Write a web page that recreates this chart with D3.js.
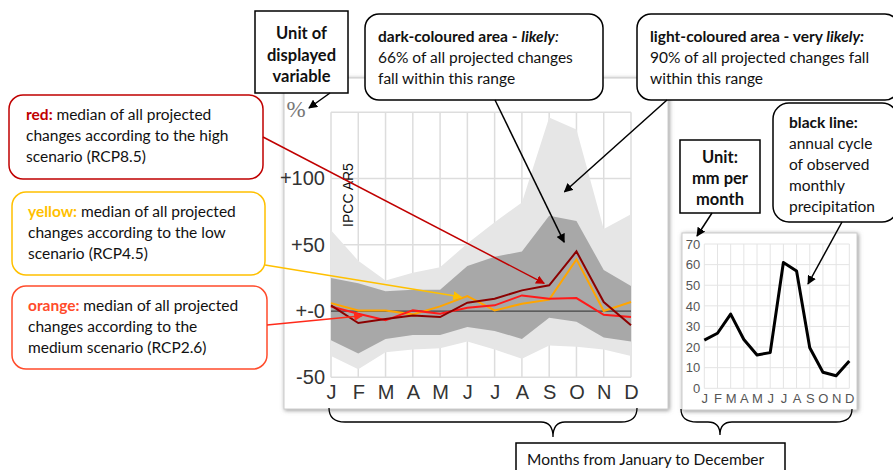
<!DOCTYPE html>
<html lang="en">
<head>
  <meta charset="UTF-8">
  <title>climate projection chart explained</title>
  <style>
    body { margin: 0; background: #fff; }
    svg { display: block; }
  </style>
</head>
<body>
  <script src="https://cdn.jsdelivr.net/npm/d3@7/dist/d3.min.js"></script>
  <script>
    // months, shared by both charts
    var months = ["J", "F", "M", "A", "M", "J", "J", "A", "S", "O", "N", "D"];
    // projected change in %, 90% range (light) and 66% range (dark)
    var veryLikelyHigh = [61, 38, 23, 29, 33, 51, 67, 82, 146, 137, 62, 73];
    var veryLikelyLow = [-34, -44, -31, -29, -28, -23, -29, -36, -26, -27, -29, -34];
    var likelyHigh = [25, 21, 15, 16, 16, 34, 41, 45, 72, 68, 31, 19];
    var likelyLow = [-22, -32, -21, -18, -18, -12, -15, -21, -5, -8, -20, -23];
    // medians of the scenarios
    var rcp85 = [4.3, -9, -6, -3.3, -4.5, 6.3, 9.3, 15.6, 19.4, 45, 6.8, -10.8];
    var rcp45 = [6, 0.5, 0.5, -2.5, 3.5, 11.3, 0.5, 5.5, 8.6, 39, 0, 6.8];
    var rcp26 = [3.5, -2, -7, 0.5, -2, 2.5, 4.3, 11.8, 9.3, 9.8, -2.8, -4.5];
    // observed monthly precipitation, mm
    var observed = [23.4, 26.7, 36, 23.7, 16.2, 17.3, 61, 56.9, 19.7, 7.8, 6.1, 13.2];
    var changeTicks = [-50, 0, 50, 100];
    var changeTickLabels = ["-50", "+-0", "+50", "+100"];
    var rainTicks = [0, 10, 20, 30, 40, 50, 60, 70];

    var width = 893, height = 470;
    var noteFont = "Lato, 'Open Sans', sans-serif";
    var axisFont = "'Liberation Sans', Arial, sans-serif";

    var svg = d3.select("body").append("svg")
      .attr("width", width)
      .attr("height", height);

    var defs = svg.append("defs");
    var shadow = defs.append("filter").attr("id", "shadow")
      .attr("x", "-5%").attr("y", "-5%").attr("width", "110%").attr("height", "110%");
    shadow.append("feDropShadow")
      .attr("dx", 1).attr("dy", 1).attr("stdDeviation", 2)
      .attr("flood-color", "#777").attr("flood-opacity", 0.8);

    function marker(id, color) {
      defs.append("marker").attr("id", id)
        .attr("viewBox", "0 0 10 10").attr("refX", 9).attr("refY", 5)
        .attr("markerWidth", 9).attr("markerHeight", 9)
        .attr("markerUnits", "userSpaceOnUse")
        .attr("orient", "auto")
        .append("path").attr("d", "M0,0 L10,5 L0,10 z").attr("fill", color);
    }
    marker("arBlack", "#000");
    marker("arRed", "#c00000");
    marker("arYellow", "#ffc000");
    marker("arOrange", "#ff2a1a");

    // frames
    svg.append("rect").attr("x", 284).attr("y", 78).attr("width", 384).attr("height", 331)
      .attr("fill", "#fff").attr("stroke", "#ccc").attr("filter", "url(#shadow)");
    svg.append("rect").attr("x", 682).attr("y", 233).attr("width", 175).attr("height", 177)
      .attr("fill", "#fff").attr("stroke", "#ccc").attr("filter", "url(#shadow)");

    // ---------- main chart ----------
    var x = d3.scalePoint().domain(d3.range(12)).range([331, 631]);
    var y = d3.scaleLinear().domain([-50, 150]).range([377.3, 112.3]);

    var main = svg.append("g");
    // grid
    main.selectAll("line.vg").data(d3.range(12)).enter().append("line")
      .attr("x1", function(d){ return x(d); }).attr("x2", function(d){ return x(d); })
      .attr("y1", y(150)).attr("y2", y(-50))
      .attr("stroke", "#ddd").attr("stroke-width", 1.5);
    main.selectAll("line.hg").data([-50, 50, 100, 150]).enter().append("line")
      .attr("x1", x(0)).attr("x2", x(11))
      .attr("y1", function(d){ return y(d); }).attr("y2", function(d){ return y(d); })
      .attr("stroke", "#ddd").attr("stroke-width", 1.5);

    var band = function(hi, lo) {
      return d3.area()
        .x(function(d, i){ return x(i); })
        .y0(function(d, i){ return y(lo[i]); })
        .y1(function(d, i){ return y(hi[i]); })(months);
    };
    main.append("path").attr("d", band(veryLikelyHigh, veryLikelyLow)).attr("fill", "#e6e6e6");
    main.append("path").attr("d", band(likelyHigh, likelyLow)).attr("fill", "#a8a8a8");

    main.append("line").attr("x1", x(0)).attr("x2", x(11)).attr("y1", y(0)).attr("y2", y(0))
      .attr("stroke", "#444").attr("stroke-width", 1.2);

    var line = d3.line().x(function(d, i){ return x(i); }).y(function(d){ return y(d); });
    main.append("path").attr("d", line(rcp45)).attr("fill", "none").attr("stroke", "#ffa500").attr("stroke-width", 2);
    main.append("path").attr("d", line(rcp26)).attr("fill", "none").attr("stroke", "#ff1a1a").attr("stroke-width", 2);
    main.append("path").attr("d", line(rcp85)).attr("fill", "none").attr("stroke", "#8b0000").attr("stroke-width", 2);

    // axes
    var yAxis = main.append("g").attr("transform", "translate(" + x(0) + ",0)")
      .call(d3.axisLeft(y).tickValues(changeTicks).tickSize(0).tickPadding(6)
        .tickFormat(function(d, i){ return changeTickLabels[i]; }));
    yAxis.select(".domain").remove();
    yAxis.selectAll("text").attr("font-family", axisFont).attr("font-size", 20).attr("fill", "#333");

    var xAxis = main.append("g").attr("transform", "translate(0," + y(-50) + ")")
      .call(d3.axisBottom(x).tickSize(0).tickPadding(8).tickFormat(function(d){ return months[d]; }));
    xAxis.select(".domain").remove();
    xAxis.selectAll("text").attr("font-family", axisFont).attr("font-size", 20).attr("fill", "#333");

    main.append("text").attr("x", 296).attr("y", 117).attr("text-anchor", "middle")
      .attr("font-family", "'Liberation Serif', serif").attr("font-size", 23).attr("fill", "#777").text("%");
    main.append("text").attr("transform", "translate(353,195) rotate(-90)")
      .attr("text-anchor", "middle").attr("font-family", axisFont).attr("font-size", 14).attr("fill", "#111")
      .text("IPCC AR5");

    // ---------- small chart ----------
    var xs = d3.scalePoint().domain(d3.range(12)).range([704.3, 849.3]);
    var ys = d3.scaleLinear().domain([0, 70]).range([388.3, 244]);
    var small = svg.append("g");
    small.selectAll("line.vg").data(d3.range(12)).enter().append("line")
      .attr("x1", function(d){ return xs(d); }).attr("x2", function(d){ return xs(d); })
      .attr("y1", ys(70)).attr("y2", ys(0)).attr("stroke", "#e4e4e4");
    small.selectAll("line.hg").data(rainTicks).enter().append("line")
      .attr("x1", xs(0)).attr("x2", xs(11))
      .attr("y1", function(d){ return ys(d); }).attr("y2", function(d){ return ys(d); })
      .attr("stroke", "#e4e4e4");
    small.append("path")
      .attr("d", d3.line().x(function(d, i){ return xs(i); }).y(function(d){ return ys(d); })(observed))
      .attr("fill", "none").attr("stroke", "#000").attr("stroke-width", 3).attr("stroke-linejoin", "round");
    var sy = small.append("g").attr("transform", "translate(" + xs(0) + ",0)")
      .call(d3.axisLeft(ys).tickValues(rainTicks).tickSize(0).tickPadding(4));
    sy.select(".domain").remove();
    sy.selectAll("text").attr("font-family", axisFont).attr("font-size", 13).attr("fill", "#555");
    var sx = small.append("g").attr("transform", "translate(0," + ys(0) + ")")
      .call(d3.axisBottom(xs).tickSize(0).tickPadding(5).tickFormat(function(d){ return months[d]; }));
    sx.select(".domain").remove();
    sx.selectAll("text").attr("font-family", axisFont).attr("font-size", 13).attr("fill", "#555");

    // ---------- braces ----------
    function brace(x1, x2, xt, yTop, yMid, yTip) {
      return "M" + x1 + "," + yTop + " Q" + x1 + "," + yMid + " " + (x1 + 16) + "," + yMid +
        " L" + (xt - 12) + "," + yMid + " Q" + xt + "," + yMid + " " + xt + "," + yTip +
        " Q" + xt + "," + yMid + " " + (xt + 12) + "," + yMid +
        " L" + (x2 - 16) + "," + yMid + " Q" + x2 + "," + yMid + " " + x2 + "," + yTop;
    }
    svg.append("path").attr("d", brace(x(0) - 2, x(11) + 6, 553, 408, 422, 437))
      .attr("fill", "none").attr("stroke", "#000").attr("stroke-width", 1.3);
    svg.append("path").attr("d", brace(681, 852, 720, 409, 422, 435))
      .attr("fill", "none").attr("stroke", "#000").attr("stroke-width", 1.3);

    // ---------- annotation boxes ----------
    function note(bx, by, bw, bh, rx, stroke, lines, opts) {
      opts = opts || {};
      var g = svg.append("g");
      g.append("rect").attr("x", bx).attr("y", by).attr("width", bw).attr("height", bh)
        .attr("rx", rx).attr("fill", "#fff").attr("stroke", stroke).attr("stroke-width", 1.5);
      var t = g.append("text").attr("font-family", noteFont).attr("font-size", opts.size || 15.5)
        .attr("fill", "#111");
      lines.forEach(function(ln, i) {
        var tl = t.append("tspan").attr("y", by + opts.top + i * (opts.lh || 21));
        if (opts.center) tl.attr("x", bx + bw / 2).attr("text-anchor", "middle");
        else tl.attr("x", bx + opts.left);
        ln.forEach(function(part, j) {
          var s = j === 0 ? tl : t.append("tspan");
          s.text(part.t);
          if (part.b) s.attr("font-weight", "bold");
          if (part.i) s.attr("font-style", "italic");
          if (part.c) s.attr("fill", part.c);
        });
      });
      return g;
    }

    function arrow(x1, y1, x2, y2, color, id) {
      svg.append("line").attr("x1", x1).attr("y1", y1).attr("x2", x2).attr("y2", y2)
        .attr("stroke", color).attr("stroke-width", 1.5).attr("marker-end", "url(#" + id + ")");
    }

    note(255, 11, 93, 82, 0, "#000",
      [[{t: "Unit of", b: 1}], [{t: "displayed", b: 1}], [{t: "variable", b: 1}]],
      {center: 1, top: 28, lh: 21.5, size: 16.5});
    note(365, 14, 238, 86, 14, "#000",
      [[{t: "dark-coloured area - ", b: 1}, {t: " likely", b: 1, i: 1}, {t: ":", i: 1}],
       [{t: "66% of all projected changes"}], [{t: "fall within this range"}]],
      {left: 13, top: 28});
    note(637, 14, 262, 86, 14, "#000",
      [[{t: "light-coloured area - very ", b: 1}, {t: "likely:", b: 1, i: 1}],
       [{t: "90% of all projected changes fall"}], [{t: "within this range"}]],
      {left: 13, top: 28});
    note(9, 95, 254, 84, 14, "#c00000",
      [[{t: "red: ", b: 1, c: "#c00000"}, {t: "median of all projected"}],
       [{t: "changes according to the high"}], [{t: "scenario (RCP8.5)"}]],
      {left: 17, top: 25});
    note(12, 192, 253, 83, 14, "#ffc000",
      [[{t: "yellow: ", b: 1, c: "#ffc000"}, {t: "median of all projected"}],
       [{t: "changes according to the low"}], [{t: "scenario (RCP4.5)"}]],
      {left: 16, top: 25});
    note(12, 286, 255, 83, 14, "#ff4b2b",
      [[{t: "orange: ", b: 1, c: "#ff4b2b"}, {t: "median of all projected"}],
       [{t: "changes according to the"}], [{t: "medium scenario (RCP2.6)"}]],
      {left: 16, top: 25});
    note(680, 140, 80, 73, 0, "#000",
      [[{t: "Unit:", b: 1}], [{t: "mm per", b: 1}], [{t: "month", b: 1}]],
      {center: 1, top: 23, size: 16.5});
    note(773, 103, 125, 119, 16, "#000",
      [[{t: "black line:", b: 1}], [{t: "annual cycle"}], [{t: "of observed"}], [{t: "monthly"}], [{t: "precipitation"}]],
      {left: 16, top: 25});
    note(516, 443, 269, 40, 0, "#000",
      [[{t: "Months from January to December"}]],
      {left: 11, top: 22});

    // ---------- arrows ----------
    arrow(330, 93, 309, 108, "#000", "arBlack");
    arrow(495, 100, x(8) + 15, y(52), "#000", "arBlack");
    arrow(667, 100, x(9) - 12, y(90), "#000", "arBlack");
    arrow(263, 137, x(8) - 5, y(rcp85[8]) - 2, "#c00000", "arRed");
    arrow(265, 265, x(5) - 6, y(rcp45[5]) + 1, "#ffc000", "arYellow");
    arrow(267, 325, x(1) + 4, y(rcp26[1]) + 2, "#ff2a1a", "arOrange");
    arrow(712, 213, 697, 236, "#000", "arBlack");
    arrow(842, 222, 808, 284, "#000", "arBlack");
  </script>
</body>
</html>
